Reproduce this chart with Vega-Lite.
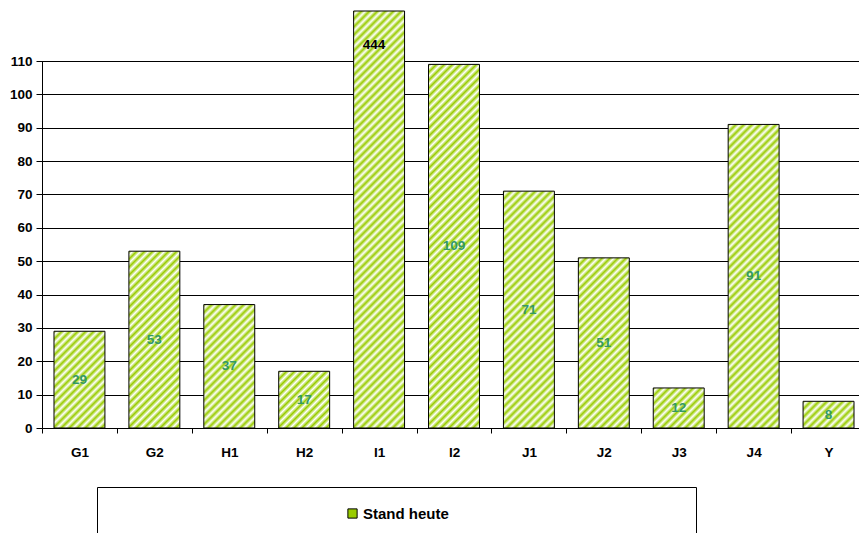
{
"$schema": "https://vega.github.io/schema/vega-lite/v6.json",
"width": 817,
"height": 417,
"autosize": {"type": "none"},
"padding": {"left": 42, "top": 11, "right": 0, "bottom": 105},
"background": "white",
"data": {"values": [
{"cat": "G1", "value": 29, "series": "Stand heute"},
{"cat": "G2", "value": 53, "series": "Stand heute"},
{"cat": "H1", "value": 37, "series": "Stand heute"},
{"cat": "H2", "value": 17, "series": "Stand heute"},
{"cat": "I1", "value": 444, "series": "Stand heute"},
{"cat": "I2", "value": 109, "series": "Stand heute"},
{"cat": "J1", "value": 71, "series": "Stand heute"},
{"cat": "J2", "value": 51, "series": "Stand heute"},
{"cat": "J3", "value": 12, "series": "Stand heute"},
{"cat": "J4", "value": 91, "series": "Stand heute"},
{"cat": "Y", "value": 8, "series": "Stand heute"}
]},
"config": {
"font": "Liberation Sans",
"view": {"stroke": null},
"axisX": {"title": null, "labelAngle": 0, "labelFontSize": 13.5, "labelFontWeight": "bold", "labelColor": "black", "labelPadding": 12, "tickBand": "extent", "tickSize": 5, "tickColor": "black", "domainColor": "black", "grid": false},
"axisY": {"title": null, "domain": false, "grid": true, "gridColor": "black", "gridOpacity": 1, "tickColor": "black", "tickSize": 6, "labelPadding": 4, "labelFontSize": 13.5, "labelFontWeight": "bold", "labelColor": "black"}
},
"layer": [
{
"mark": {"type": "bar", "stroke": "black", "strokeWidth": 1, "width": {"band": 0.68}},
"encoding": {
"x": {"field": "cat", "type": "nominal", "title": null, "scale": {"range": [0, 824], "paddingInner": 0, "paddingOuter": 0}, "axis": {"title": null}},
"y": {"field": "value", "type": "quantitative", "title": null, "scale": {"domain": [0, 125], "clamp": true, "nice": false},
 "axis": {"title": null, "values": [0, 10, 20, 30, 40, 50, 60, 70, 80, 90, 100, 110]}},
"fill": {
"condition": [
{"test": "datum.cat === 'G1'", "value": {"gradient": "linear", "x1": 0, "y1": 0, "x2": 1.7046, "y2": 3.2373, "stops": [
{"offset":0,"color":"#9c0"},{"offset":0.01,"color":"#fff"},{"offset":0.02,"color":"#9c0"},{"offset":0.03,"color":"#fff"},{"offset":0.04,"color":"#9c0"},{"offset":0.05,"color":"#fff"},{"offset":0.06,"color":"#9c0"},{"offset":0.07,"color":"#fff"},{"offset":0.08,"color":"#9c0"},{"offset":0.09,"color":"#fff"},{"offset":0.1,"color":"#9c0"},{"offset":0.11,"color":"#fff"},{"offset":0.12,"color":"#9c0"},{"offset":0.13,"color":"#fff"},{"offset":0.14,"color":"#9c0"},{"offset":0.15,"color":"#fff"},{"offset":0.16,"color":"#9c0"},{"offset":0.17,"color":"#fff"},{"offset":0.18,"color":"#9c0"},{"offset":0.19,"color":"#fff"},
{"offset":0.2,"color":"#9c0"},{"offset":0.21,"color":"#fff"},{"offset":0.22,"color":"#9c0"},{"offset":0.23,"color":"#fff"},{"offset":0.24,"color":"#9c0"},{"offset":0.25,"color":"#fff"},{"offset":0.26,"color":"#9c0"},{"offset":0.27,"color":"#fff"},{"offset":0.28,"color":"#9c0"},{"offset":0.29,"color":"#fff"},{"offset":0.3,"color":"#9c0"},{"offset":0.31,"color":"#fff"},{"offset":0.32,"color":"#9c0"},{"offset":0.33,"color":"#fff"},{"offset":0.34,"color":"#9c0"},{"offset":0.35,"color":"#fff"},{"offset":0.36,"color":"#9c0"},{"offset":0.37,"color":"#fff"},{"offset":0.38,"color":"#9c0"},{"offset":0.39,"color":"#fff"}
]}},
{"test": "datum.cat === 'G2'", "value": {"gradient": "linear", "x1": 0, "y1": 0, "x2": 0.6018, "y2": 2.0889, "stops": [
{"offset":0,"color":"#9c0"},{"offset":0.01,"color":"#fff"},{"offset":0.02,"color":"#9c0"},{"offset":0.03,"color":"#fff"},{"offset":0.04,"color":"#9c0"},{"offset":0.05,"color":"#fff"},{"offset":0.06,"color":"#9c0"},{"offset":0.07,"color":"#fff"},{"offset":0.08,"color":"#9c0"},{"offset":0.09,"color":"#fff"},{"offset":0.1,"color":"#9c0"},{"offset":0.11,"color":"#fff"},{"offset":0.12,"color":"#9c0"},{"offset":0.13,"color":"#fff"},{"offset":0.14,"color":"#9c0"},{"offset":0.15,"color":"#fff"},{"offset":0.16,"color":"#9c0"},{"offset":0.17,"color":"#fff"},{"offset":0.18,"color":"#9c0"},{"offset":0.19,"color":"#fff"},
{"offset":0.2,"color":"#9c0"},{"offset":0.21,"color":"#fff"},{"offset":0.22,"color":"#9c0"},{"offset":0.23,"color":"#fff"},{"offset":0.24,"color":"#9c0"},{"offset":0.25,"color":"#fff"},{"offset":0.26,"color":"#9c0"},{"offset":0.27,"color":"#fff"},{"offset":0.28,"color":"#9c0"},{"offset":0.29,"color":"#fff"},{"offset":0.3,"color":"#9c0"},{"offset":0.31,"color":"#fff"},{"offset":0.32,"color":"#9c0"},{"offset":0.33,"color":"#fff"},{"offset":0.34,"color":"#9c0"},{"offset":0.35,"color":"#fff"},{"offset":0.36,"color":"#9c0"},{"offset":0.37,"color":"#fff"},{"offset":0.38,"color":"#9c0"},{"offset":0.39,"color":"#fff"},
{"offset":0.4,"color":"#9c0"},{"offset":0.41,"color":"#fff"},{"offset":0.42,"color":"#9c0"},{"offset":0.43,"color":"#fff"},{"offset":0.44,"color":"#9c0"},{"offset":0.45,"color":"#fff"},{"offset":0.46,"color":"#9c0"},{"offset":0.47,"color":"#fff"},{"offset":0.48,"color":"#9c0"},{"offset":0.49,"color":"#fff"},{"offset":0.5,"color":"#9c0"},{"offset":0.51,"color":"#fff"},{"offset":0.52,"color":"#9c0"},{"offset":0.53,"color":"#fff"},{"offset":0.54,"color":"#9c0"},{"offset":0.55,"color":"#fff"},{"offset":0.56,"color":"#9c0"},{"offset":0.57,"color":"#fff"},{"offset":0.58,"color":"#9c0"},{"offset":0.59,"color":"#fff"}
]}},
{"test": "datum.cat === 'H1'", "value": {"gradient": "linear", "x1": 0, "y1": 0, "x2": 1.1428, "y2": 2.7691, "stops": [
{"offset":0,"color":"#9c0"},{"offset":0.01,"color":"#fff"},{"offset":0.02,"color":"#9c0"},{"offset":0.03,"color":"#fff"},{"offset":0.04,"color":"#9c0"},{"offset":0.05,"color":"#fff"},{"offset":0.06,"color":"#9c0"},{"offset":0.07,"color":"#fff"},{"offset":0.08,"color":"#9c0"},{"offset":0.09,"color":"#fff"},{"offset":0.1,"color":"#9c0"},{"offset":0.11,"color":"#fff"},{"offset":0.12,"color":"#9c0"},{"offset":0.13,"color":"#fff"},{"offset":0.14,"color":"#9c0"},{"offset":0.15,"color":"#fff"},{"offset":0.16,"color":"#9c0"},{"offset":0.17,"color":"#fff"},{"offset":0.18,"color":"#9c0"},{"offset":0.19,"color":"#fff"},
{"offset":0.2,"color":"#9c0"},{"offset":0.21,"color":"#fff"},{"offset":0.22,"color":"#9c0"},{"offset":0.23,"color":"#fff"},{"offset":0.24,"color":"#9c0"},{"offset":0.25,"color":"#fff"},{"offset":0.26,"color":"#9c0"},{"offset":0.27,"color":"#fff"},{"offset":0.28,"color":"#9c0"},{"offset":0.29,"color":"#fff"},{"offset":0.3,"color":"#9c0"},{"offset":0.31,"color":"#fff"},{"offset":0.32,"color":"#9c0"},{"offset":0.33,"color":"#fff"},{"offset":0.34,"color":"#9c0"},{"offset":0.35,"color":"#fff"},{"offset":0.36,"color":"#9c0"},{"offset":0.37,"color":"#fff"},{"offset":0.38,"color":"#9c0"},{"offset":0.39,"color":"#fff"},
{"offset":0.4,"color":"#9c0"},{"offset":0.41,"color":"#fff"},{"offset":0.42,"color":"#9c0"},{"offset":0.43,"color":"#fff"},{"offset":0.44,"color":"#9c0"},{"offset":0.45,"color":"#fff"}
]}},
{"test": "datum.cat === 'H2'", "value": {"gradient": "linear", "x1": 0, "y1": 0, "x2": 3.5065, "y2": 3.9038, "stops": [
{"offset":0,"color":"#9c0"},{"offset":0.01,"color":"#fff"},{"offset":0.02,"color":"#9c0"},{"offset":0.03,"color":"#fff"},{"offset":0.04,"color":"#9c0"},{"offset":0.05,"color":"#fff"},{"offset":0.06,"color":"#9c0"},{"offset":0.07,"color":"#fff"},{"offset":0.08,"color":"#9c0"},{"offset":0.09,"color":"#fff"},{"offset":0.1,"color":"#9c0"},{"offset":0.11,"color":"#fff"},{"offset":0.12,"color":"#9c0"},{"offset":0.13,"color":"#fff"},{"offset":0.14,"color":"#9c0"},{"offset":0.15,"color":"#fff"},{"offset":0.16,"color":"#9c0"},{"offset":0.17,"color":"#fff"},{"offset":0.18,"color":"#9c0"},{"offset":0.19,"color":"#fff"},
{"offset":0.2,"color":"#9c0"},{"offset":0.21,"color":"#fff"},{"offset":0.22,"color":"#9c0"},{"offset":0.23,"color":"#fff"},{"offset":0.24,"color":"#9c0"},{"offset":0.25,"color":"#fff"},{"offset":0.26,"color":"#9c0"},{"offset":0.27,"color":"#fff"},{"offset":0.28,"color":"#9c0"},{"offset":0.29,"color":"#fff"}
]}},
{"test": "datum.cat === 'I1'", "value": {"gradient": "linear", "x1": 0, "y1": 0, "x2": 0.2309, "y2": 1.8903, "stops": [
{"offset":0,"color":"#9c0"},{"offset":0.005,"color":"#fff"},{"offset":0.01,"color":"#9c0"},{"offset":0.015,"color":"#fff"},{"offset":0.02,"color":"#9c0"},{"offset":0.025,"color":"#fff"},{"offset":0.03,"color":"#9c0"},{"offset":0.035,"color":"#fff"},{"offset":0.04,"color":"#9c0"},{"offset":0.045,"color":"#fff"},{"offset":0.05,"color":"#9c0"},{"offset":0.055,"color":"#fff"},{"offset":0.06,"color":"#9c0"},{"offset":0.065,"color":"#fff"},{"offset":0.07,"color":"#9c0"},{"offset":0.075,"color":"#fff"},{"offset":0.08,"color":"#9c0"},{"offset":0.085,"color":"#fff"},{"offset":0.09,"color":"#9c0"},{"offset":0.095,"color":"#fff"},
{"offset":0.1,"color":"#9c0"},{"offset":0.105,"color":"#fff"},{"offset":0.11,"color":"#9c0"},{"offset":0.115,"color":"#fff"},{"offset":0.12,"color":"#9c0"},{"offset":0.125,"color":"#fff"},{"offset":0.13,"color":"#9c0"},{"offset":0.135,"color":"#fff"},{"offset":0.14,"color":"#9c0"},{"offset":0.145,"color":"#fff"},{"offset":0.15,"color":"#9c0"},{"offset":0.155,"color":"#fff"},{"offset":0.16,"color":"#9c0"},{"offset":0.165,"color":"#fff"},{"offset":0.17,"color":"#9c0"},{"offset":0.175,"color":"#fff"},{"offset":0.18,"color":"#9c0"},{"offset":0.185,"color":"#fff"},{"offset":0.19,"color":"#9c0"},{"offset":0.195,"color":"#fff"},
{"offset":0.2,"color":"#9c0"},{"offset":0.205,"color":"#fff"},{"offset":0.21,"color":"#9c0"},{"offset":0.215,"color":"#fff"},{"offset":0.22,"color":"#9c0"},{"offset":0.225,"color":"#fff"},{"offset":0.23,"color":"#9c0"},{"offset":0.235,"color":"#fff"},{"offset":0.24,"color":"#9c0"},{"offset":0.245,"color":"#fff"},{"offset":0.25,"color":"#9c0"},{"offset":0.255,"color":"#fff"},{"offset":0.26,"color":"#9c0"},{"offset":0.265,"color":"#fff"},{"offset":0.27,"color":"#9c0"},{"offset":0.275,"color":"#fff"},{"offset":0.28,"color":"#9c0"},{"offset":0.285,"color":"#fff"},{"offset":0.29,"color":"#9c0"},{"offset":0.295,"color":"#fff"},
{"offset":0.3,"color":"#9c0"},{"offset":0.305,"color":"#fff"},{"offset":0.31,"color":"#9c0"},{"offset":0.315,"color":"#fff"},{"offset":0.32,"color":"#9c0"},{"offset":0.325,"color":"#fff"},{"offset":0.33,"color":"#9c0"},{"offset":0.335,"color":"#fff"},{"offset":0.34,"color":"#9c0"},{"offset":0.345,"color":"#fff"},{"offset":0.35,"color":"#9c0"},{"offset":0.355,"color":"#fff"},{"offset":0.36,"color":"#9c0"},{"offset":0.365,"color":"#fff"},{"offset":0.37,"color":"#9c0"},{"offset":0.375,"color":"#fff"},{"offset":0.38,"color":"#9c0"},{"offset":0.385,"color":"#fff"},{"offset":0.39,"color":"#9c0"},{"offset":0.395,"color":"#fff"},
{"offset":0.4,"color":"#9c0"},{"offset":0.405,"color":"#fff"},{"offset":0.41,"color":"#9c0"},{"offset":0.415,"color":"#fff"},{"offset":0.42,"color":"#9c0"},{"offset":0.425,"color":"#fff"},{"offset":0.43,"color":"#9c0"},{"offset":0.435,"color":"#fff"},{"offset":0.44,"color":"#9c0"},{"offset":0.445,"color":"#fff"},{"offset":0.45,"color":"#9c0"},{"offset":0.455,"color":"#fff"},{"offset":0.46,"color":"#9c0"},{"offset":0.465,"color":"#fff"},{"offset":0.47,"color":"#9c0"},{"offset":0.475,"color":"#fff"},{"offset":0.48,"color":"#9c0"},{"offset":0.485,"color":"#fff"},{"offset":0.49,"color":"#9c0"},{"offset":0.495,"color":"#fff"},
{"offset":0.5,"color":"#9c0"},{"offset":0.505,"color":"#fff"},{"offset":0.51,"color":"#9c0"},{"offset":0.515,"color":"#fff"},{"offset":0.52,"color":"#9c0"},{"offset":0.525,"color":"#fff"},{"offset":0.53,"color":"#9c0"},{"offset":0.535,"color":"#fff"},{"offset":0.54,"color":"#9c0"},{"offset":0.545,"color":"#fff"},{"offset":0.55,"color":"#9c0"},{"offset":0.555,"color":"#fff"},{"offset":0.56,"color":"#9c0"},{"offset":0.565,"color":"#fff"},{"offset":0.57,"color":"#9c0"},{"offset":0.575,"color":"#fff"},{"offset":0.58,"color":"#9c0"},{"offset":0.585,"color":"#fff"},{"offset":0.59,"color":"#9c0"},{"offset":0.595,"color":"#fff"}
]}},
{"test": "datum.cat === 'I2'", "value": {"gradient": "linear", "x1": 0, "y1": 0, "x2": 0.3023, "y2": 2.1578, "stops": [
{"offset":0,"color":"#9c0"},{"offset":0.005,"color":"#fff"},{"offset":0.01,"color":"#9c0"},{"offset":0.015,"color":"#fff"},{"offset":0.02,"color":"#9c0"},{"offset":0.025,"color":"#fff"},{"offset":0.03,"color":"#9c0"},{"offset":0.035,"color":"#fff"},{"offset":0.04,"color":"#9c0"},{"offset":0.045,"color":"#fff"},{"offset":0.05,"color":"#9c0"},{"offset":0.055,"color":"#fff"},{"offset":0.06,"color":"#9c0"},{"offset":0.065,"color":"#fff"},{"offset":0.07,"color":"#9c0"},{"offset":0.075,"color":"#fff"},{"offset":0.08,"color":"#9c0"},{"offset":0.085,"color":"#fff"},{"offset":0.09,"color":"#9c0"},{"offset":0.095,"color":"#fff"},
{"offset":0.1,"color":"#9c0"},{"offset":0.105,"color":"#fff"},{"offset":0.11,"color":"#9c0"},{"offset":0.115,"color":"#fff"},{"offset":0.12,"color":"#9c0"},{"offset":0.125,"color":"#fff"},{"offset":0.13,"color":"#9c0"},{"offset":0.135,"color":"#fff"},{"offset":0.14,"color":"#9c0"},{"offset":0.145,"color":"#fff"},{"offset":0.15,"color":"#9c0"},{"offset":0.155,"color":"#fff"},{"offset":0.16,"color":"#9c0"},{"offset":0.165,"color":"#fff"},{"offset":0.17,"color":"#9c0"},{"offset":0.175,"color":"#fff"},{"offset":0.18,"color":"#9c0"},{"offset":0.185,"color":"#fff"},{"offset":0.19,"color":"#9c0"},{"offset":0.195,"color":"#fff"},
{"offset":0.2,"color":"#9c0"},{"offset":0.205,"color":"#fff"},{"offset":0.21,"color":"#9c0"},{"offset":0.215,"color":"#fff"},{"offset":0.22,"color":"#9c0"},{"offset":0.225,"color":"#fff"},{"offset":0.23,"color":"#9c0"},{"offset":0.235,"color":"#fff"},{"offset":0.24,"color":"#9c0"},{"offset":0.245,"color":"#fff"},{"offset":0.25,"color":"#9c0"},{"offset":0.255,"color":"#fff"},{"offset":0.26,"color":"#9c0"},{"offset":0.265,"color":"#fff"},{"offset":0.27,"color":"#9c0"},{"offset":0.275,"color":"#fff"},{"offset":0.28,"color":"#9c0"},{"offset":0.285,"color":"#fff"},{"offset":0.29,"color":"#9c0"},{"offset":0.295,"color":"#fff"},
{"offset":0.3,"color":"#9c0"},{"offset":0.305,"color":"#fff"},{"offset":0.31,"color":"#9c0"},{"offset":0.315,"color":"#fff"},{"offset":0.32,"color":"#9c0"},{"offset":0.325,"color":"#fff"},{"offset":0.33,"color":"#9c0"},{"offset":0.335,"color":"#fff"},{"offset":0.34,"color":"#9c0"},{"offset":0.345,"color":"#fff"},{"offset":0.35,"color":"#9c0"},{"offset":0.355,"color":"#fff"},{"offset":0.36,"color":"#9c0"},{"offset":0.365,"color":"#fff"},{"offset":0.37,"color":"#9c0"},{"offset":0.375,"color":"#fff"},{"offset":0.38,"color":"#9c0"},{"offset":0.385,"color":"#fff"},{"offset":0.39,"color":"#9c0"},{"offset":0.395,"color":"#fff"},
{"offset":0.4,"color":"#9c0"},{"offset":0.405,"color":"#fff"},{"offset":0.41,"color":"#9c0"},{"offset":0.415,"color":"#fff"},{"offset":0.42,"color":"#9c0"},{"offset":0.425,"color":"#fff"},{"offset":0.43,"color":"#9c0"},{"offset":0.435,"color":"#fff"},{"offset":0.44,"color":"#9c0"},{"offset":0.445,"color":"#fff"},{"offset":0.45,"color":"#9c0"},{"offset":0.455,"color":"#fff"},{"offset":0.46,"color":"#9c0"},{"offset":0.465,"color":"#fff"},{"offset":0.47,"color":"#9c0"},{"offset":0.475,"color":"#fff"},{"offset":0.48,"color":"#9c0"},{"offset":0.485,"color":"#fff"},{"offset":0.49,"color":"#9c0"},{"offset":0.495,"color":"#fff"},
{"offset":0.5,"color":"#9c0"},{"offset":0.505,"color":"#fff"},{"offset":0.51,"color":"#9c0"},{"offset":0.515,"color":"#fff"},{"offset":0.52,"color":"#9c0"},{"offset":0.525,"color":"#fff"}
]}},
{"test": "datum.cat === 'J1'", "value": {"gradient": "linear", "x1": 0, "y1": 0, "x2": 0.3471, "y2": 1.6141, "stops": [
{"offset":0,"color":"#9c0"},{"offset":0.01,"color":"#fff"},{"offset":0.02,"color":"#9c0"},{"offset":0.03,"color":"#fff"},{"offset":0.04,"color":"#9c0"},{"offset":0.05,"color":"#fff"},{"offset":0.06,"color":"#9c0"},{"offset":0.07,"color":"#fff"},{"offset":0.08,"color":"#9c0"},{"offset":0.09,"color":"#fff"},{"offset":0.1,"color":"#9c0"},{"offset":0.11,"color":"#fff"},{"offset":0.12,"color":"#9c0"},{"offset":0.13,"color":"#fff"},{"offset":0.14,"color":"#9c0"},{"offset":0.15,"color":"#fff"},{"offset":0.16,"color":"#9c0"},{"offset":0.17,"color":"#fff"},{"offset":0.18,"color":"#9c0"},{"offset":0.19,"color":"#fff"},
{"offset":0.2,"color":"#9c0"},{"offset":0.21,"color":"#fff"},{"offset":0.22,"color":"#9c0"},{"offset":0.23,"color":"#fff"},{"offset":0.24,"color":"#9c0"},{"offset":0.25,"color":"#fff"},{"offset":0.26,"color":"#9c0"},{"offset":0.27,"color":"#fff"},{"offset":0.28,"color":"#9c0"},{"offset":0.29,"color":"#fff"},{"offset":0.3,"color":"#9c0"},{"offset":0.31,"color":"#fff"},{"offset":0.32,"color":"#9c0"},{"offset":0.33,"color":"#fff"},{"offset":0.34,"color":"#9c0"},{"offset":0.35,"color":"#fff"},{"offset":0.36,"color":"#9c0"},{"offset":0.37,"color":"#fff"},{"offset":0.38,"color":"#9c0"},{"offset":0.39,"color":"#fff"},
{"offset":0.4,"color":"#9c0"},{"offset":0.41,"color":"#fff"},{"offset":0.42,"color":"#9c0"},{"offset":0.43,"color":"#fff"},{"offset":0.44,"color":"#9c0"},{"offset":0.45,"color":"#fff"},{"offset":0.46,"color":"#9c0"},{"offset":0.47,"color":"#fff"},{"offset":0.48,"color":"#9c0"},{"offset":0.49,"color":"#fff"},{"offset":0.5,"color":"#9c0"},{"offset":0.51,"color":"#fff"},{"offset":0.52,"color":"#9c0"},{"offset":0.53,"color":"#fff"},{"offset":0.54,"color":"#9c0"},{"offset":0.55,"color":"#fff"},{"offset":0.56,"color":"#9c0"},{"offset":0.57,"color":"#fff"},{"offset":0.58,"color":"#9c0"},{"offset":0.59,"color":"#fff"},
{"offset":0.6,"color":"#9c0"},{"offset":0.61,"color":"#fff"},{"offset":0.62,"color":"#9c0"},{"offset":0.63,"color":"#fff"},{"offset":0.64,"color":"#9c0"},{"offset":0.65,"color":"#fff"},{"offset":0.66,"color":"#9c0"},{"offset":0.67,"color":"#fff"},{"offset":0.68,"color":"#9c0"},{"offset":0.69,"color":"#fff"},{"offset":0.7,"color":"#9c0"},{"offset":0.71,"color":"#fff"},{"offset":0.72,"color":"#9c0"},{"offset":0.73,"color":"#fff"}
]}},
{"test": "datum.cat === 'J2'", "value": {"gradient": "linear", "x1": 0, "y1": 0, "x2": 0.646, "y2": 2.1576, "stops": [
{"offset":0,"color":"#9c0"},{"offset":0.01,"color":"#fff"},{"offset":0.02,"color":"#9c0"},{"offset":0.03,"color":"#fff"},{"offset":0.04,"color":"#9c0"},{"offset":0.05,"color":"#fff"},{"offset":0.06,"color":"#9c0"},{"offset":0.07,"color":"#fff"},{"offset":0.08,"color":"#9c0"},{"offset":0.09,"color":"#fff"},{"offset":0.1,"color":"#9c0"},{"offset":0.11,"color":"#fff"},{"offset":0.12,"color":"#9c0"},{"offset":0.13,"color":"#fff"},{"offset":0.14,"color":"#9c0"},{"offset":0.15,"color":"#fff"},{"offset":0.16,"color":"#9c0"},{"offset":0.17,"color":"#fff"},{"offset":0.18,"color":"#9c0"},{"offset":0.19,"color":"#fff"},
{"offset":0.2,"color":"#9c0"},{"offset":0.21,"color":"#fff"},{"offset":0.22,"color":"#9c0"},{"offset":0.23,"color":"#fff"},{"offset":0.24,"color":"#9c0"},{"offset":0.25,"color":"#fff"},{"offset":0.26,"color":"#9c0"},{"offset":0.27,"color":"#fff"},{"offset":0.28,"color":"#9c0"},{"offset":0.29,"color":"#fff"},{"offset":0.3,"color":"#9c0"},{"offset":0.31,"color":"#fff"},{"offset":0.32,"color":"#9c0"},{"offset":0.33,"color":"#fff"},{"offset":0.34,"color":"#9c0"},{"offset":0.35,"color":"#fff"},{"offset":0.36,"color":"#9c0"},{"offset":0.37,"color":"#fff"},{"offset":0.38,"color":"#9c0"},{"offset":0.39,"color":"#fff"},
{"offset":0.4,"color":"#9c0"},{"offset":0.41,"color":"#fff"},{"offset":0.42,"color":"#9c0"},{"offset":0.43,"color":"#fff"},{"offset":0.44,"color":"#9c0"},{"offset":0.45,"color":"#fff"},{"offset":0.46,"color":"#9c0"},{"offset":0.47,"color":"#fff"},{"offset":0.48,"color":"#9c0"},{"offset":0.49,"color":"#fff"},{"offset":0.5,"color":"#9c0"},{"offset":0.51,"color":"#fff"},{"offset":0.52,"color":"#9c0"},{"offset":0.53,"color":"#fff"},{"offset":0.54,"color":"#9c0"},{"offset":0.55,"color":"#fff"},{"offset":0.56,"color":"#9c0"},{"offset":0.57,"color":"#fff"}
]}},
{"test": "datum.cat === 'J3'", "value": {"gradient": "linear", "x1": 0, "y1": 0, "x2": 4.8546, "y2": 3.815, "stops": [
{"offset":0,"color":"#9c0"},{"offset":0.01,"color":"#fff"},{"offset":0.02,"color":"#9c0"},{"offset":0.03,"color":"#fff"},{"offset":0.04,"color":"#9c0"},{"offset":0.05,"color":"#fff"},{"offset":0.06,"color":"#9c0"},{"offset":0.07,"color":"#fff"},{"offset":0.08,"color":"#9c0"},{"offset":0.09,"color":"#fff"},{"offset":0.1,"color":"#9c0"},{"offset":0.11,"color":"#fff"},{"offset":0.12,"color":"#9c0"},{"offset":0.13,"color":"#fff"},{"offset":0.14,"color":"#9c0"},{"offset":0.15,"color":"#fff"},{"offset":0.16,"color":"#9c0"},{"offset":0.17,"color":"#fff"},{"offset":0.18,"color":"#9c0"},{"offset":0.19,"color":"#fff"},
{"offset":0.2,"color":"#9c0"},{"offset":0.21,"color":"#fff"},{"offset":0.22,"color":"#9c0"},{"offset":0.23,"color":"#fff"},{"offset":0.24,"color":"#9c0"}
]}},
{"test": "datum.cat === 'J4'", "value": {"gradient": "linear", "x1": 0, "y1": 0, "x2": 0.215, "y2": 1.2815, "stops": [
{"offset":0,"color":"#9c0"},{"offset":0.01,"color":"#fff"},{"offset":0.02,"color":"#9c0"},{"offset":0.03,"color":"#fff"},{"offset":0.04,"color":"#9c0"},{"offset":0.05,"color":"#fff"},{"offset":0.06,"color":"#9c0"},{"offset":0.07,"color":"#fff"},{"offset":0.08,"color":"#9c0"},{"offset":0.09,"color":"#fff"},{"offset":0.1,"color":"#9c0"},{"offset":0.11,"color":"#fff"},{"offset":0.12,"color":"#9c0"},{"offset":0.13,"color":"#fff"},{"offset":0.14,"color":"#9c0"},{"offset":0.15,"color":"#fff"},{"offset":0.16,"color":"#9c0"},{"offset":0.17,"color":"#fff"},{"offset":0.18,"color":"#9c0"},{"offset":0.19,"color":"#fff"},
{"offset":0.2,"color":"#9c0"},{"offset":0.21,"color":"#fff"},{"offset":0.22,"color":"#9c0"},{"offset":0.23,"color":"#fff"},{"offset":0.24,"color":"#9c0"},{"offset":0.25,"color":"#fff"},{"offset":0.26,"color":"#9c0"},{"offset":0.27,"color":"#fff"},{"offset":0.28,"color":"#9c0"},{"offset":0.29,"color":"#fff"},{"offset":0.3,"color":"#9c0"},{"offset":0.31,"color":"#fff"},{"offset":0.32,"color":"#9c0"},{"offset":0.33,"color":"#fff"},{"offset":0.34,"color":"#9c0"},{"offset":0.35,"color":"#fff"},{"offset":0.36,"color":"#9c0"},{"offset":0.37,"color":"#fff"},{"offset":0.38,"color":"#9c0"},{"offset":0.39,"color":"#fff"},
{"offset":0.4,"color":"#9c0"},{"offset":0.41,"color":"#fff"},{"offset":0.42,"color":"#9c0"},{"offset":0.43,"color":"#fff"},{"offset":0.44,"color":"#9c0"},{"offset":0.45,"color":"#fff"},{"offset":0.46,"color":"#9c0"},{"offset":0.47,"color":"#fff"},{"offset":0.48,"color":"#9c0"},{"offset":0.49,"color":"#fff"},{"offset":0.5,"color":"#9c0"},{"offset":0.51,"color":"#fff"},{"offset":0.52,"color":"#9c0"},{"offset":0.53,"color":"#fff"},{"offset":0.54,"color":"#9c0"},{"offset":0.55,"color":"#fff"},{"offset":0.56,"color":"#9c0"},{"offset":0.57,"color":"#fff"},{"offset":0.58,"color":"#9c0"},{"offset":0.59,"color":"#fff"},
{"offset":0.6,"color":"#9c0"},{"offset":0.61,"color":"#fff"},{"offset":0.62,"color":"#9c0"},{"offset":0.63,"color":"#fff"},{"offset":0.64,"color":"#9c0"},{"offset":0.65,"color":"#fff"},{"offset":0.66,"color":"#9c0"},{"offset":0.67,"color":"#fff"},{"offset":0.68,"color":"#9c0"},{"offset":0.69,"color":"#fff"},{"offset":0.7,"color":"#9c0"},{"offset":0.71,"color":"#fff"},{"offset":0.72,"color":"#9c0"},{"offset":0.73,"color":"#fff"},{"offset":0.74,"color":"#9c0"},{"offset":0.75,"color":"#fff"},{"offset":0.76,"color":"#9c0"},{"offset":0.77,"color":"#fff"},{"offset":0.78,"color":"#9c0"},{"offset":0.79,"color":"#fff"},
{"offset":0.8,"color":"#9c0"},{"offset":0.81,"color":"#fff"},{"offset":0.82,"color":"#9c0"},{"offset":0.83,"color":"#fff"},{"offset":0.84,"color":"#9c0"},{"offset":0.85,"color":"#fff"},{"offset":0.86,"color":"#9c0"},{"offset":0.87,"color":"#fff"},{"offset":0.88,"color":"#9c0"},{"offset":0.89,"color":"#fff"},{"offset":0.9,"color":"#9c0"}
]}},
{"test": "datum.cat === 'Y'", "value": {"gradient": "linear", "x1": 0, "y1": 0, "x2": 6.161, "y2": 3.2282, "stops": [
{"offset":0,"color":"#9c0"},{"offset":0.01,"color":"#fff"},{"offset":0.02,"color":"#9c0"},{"offset":0.03,"color":"#fff"},{"offset":0.04,"color":"#9c0"},{"offset":0.05,"color":"#fff"},{"offset":0.06,"color":"#9c0"},{"offset":0.07,"color":"#fff"},{"offset":0.08,"color":"#9c0"},{"offset":0.09,"color":"#fff"},{"offset":0.1,"color":"#9c0"},{"offset":0.11,"color":"#fff"},{"offset":0.12,"color":"#9c0"},{"offset":0.13,"color":"#fff"},{"offset":0.14,"color":"#9c0"},{"offset":0.15,"color":"#fff"},{"offset":0.16,"color":"#9c0"},{"offset":0.17,"color":"#fff"},{"offset":0.18,"color":"#9c0"},{"offset":0.19,"color":"#fff"},{"offset":0.2,"color":"#9c0"},{"offset":0.21,"color":"#fff"}
]}}
],
"field": "series",
"type": "nominal",
"scale": {"range": ["#9c0"]},
"legend": {"title": " ", "titleOrient": "right", "titlePadding": 228, "orient": "none", "legendX": 55, "legendY": 476, "padding": 19, "strokeColor": "black", "fillColor": "white", "symbolType": "square", "symbolSize": 85, "symbolStrokeColor": "black", "symbolStrokeWidth": 1, "symbolOffset": 229, "labelOffset": 3, "labelFont": "Liberation Sans", "labelFontWeight": "bold", "labelFontSize": 15, "labelColor": "black"}
}
}
},
{
"transform": [{"filter": "datum.cat === 'G1'"}],
"mark": {"type": "rule", "color": "black", "strokeWidth": 1, "xOffset": 0.5},
"encoding": {
"x": {"field": "cat", "type": "nominal", "bandPosition": 0, "title": null, "axis": {"title": null}},
"y": {"datum": 0, "type": "quantitative", "title": null, "axis": {"title": null, "values": [0, 10, 20, 30, 40, 50, 60, 70, 80, 90, 100, 110]}},
"y2": {"datum": 110}
}
},
{
"transform": [{"filter": "datum.value <= 125"}, {"calculate": "datum.value / 2", "as": "mid"}],
"mark": {"type": "text", "fontSize": 13.5, "fontWeight": "bold", "color": "#339966", "baseline": "middle"},
"encoding": {
"x": {"field": "cat", "type": "nominal", "title": null, "axis": {"title": null}},
"y": {"field": "mid", "type": "quantitative", "title": null, "axis": {"title": null, "values": [0, 10, 20, 30, 40, 50, 60, 70, 80, 90, 100, 110]}},
"text": {"field": "value", "type": "quantitative"}
}
},
{
"transform": [{"filter": "datum.value > 125"}],
"mark": {"type": "text", "fontSize": 13.5, "fontWeight": "bold", "color": "black", "baseline": "middle", "dy": 34, "dx": -5},
"encoding": {
"x": {"field": "cat", "type": "nominal", "title": null, "axis": {"title": null}},
"y": {"field": "value", "type": "quantitative", "title": null, "axis": {"title": null, "values": [0, 10, 20, 30, 40, 50, 60, 70, 80, 90, 100, 110]}},
"text": {"field": "value", "type": "quantitative"}
}
}
]
}
